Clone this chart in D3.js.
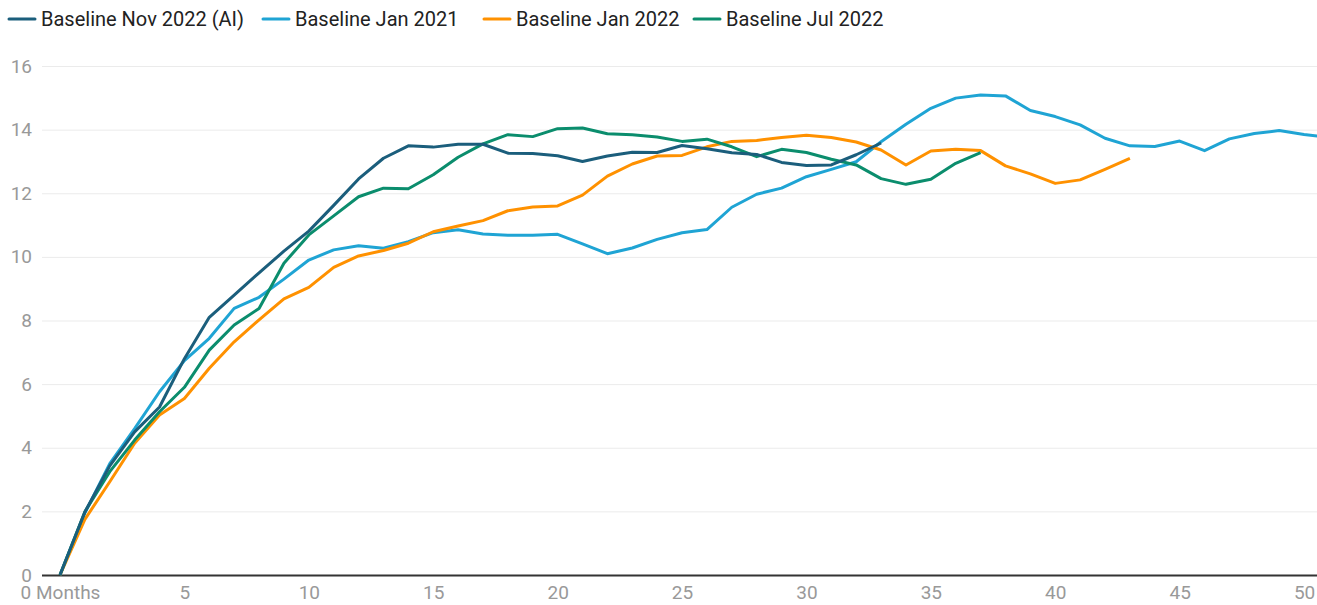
<!DOCTYPE html>
<html>
<head>
<meta charset="utf-8">
<script src="https://cdn.jsdelivr.net/npm/d3@7"></script>
<style>
  body { margin: 0; background: #fff; font-family: Roboto, sans-serif; }
  svg { display: block; }
</style>
</head>
<body>
<svg id="chart" width="1317" height="605"></svg>
<script>
// values, one per month
const novAI = [0, 1.98, 3.43, 4.5, 5.28, 6.8, 8.1, 8.8, 9.5, 10.18, 10.81, 11.62, 12.45, 13.1, 13.49, 13.45, 13.54, 13.54,
  13.26, 13.25, 13.18, 13.0, 13.17, 13.29, 13.28, 13.5, 13.4, 13.27, 13.22, 12.97, 12.87, 12.89, 13.21, 13.58];
const jan2021 = [0, 1.95, 3.5, 4.6, 5.76, 6.74, 7.44, 8.38, 8.73, 9.3, 9.9, 10.22, 10.35, 10.27, 10.48, 10.76, 10.85, 10.72,
  10.68, 10.68, 10.71, 10.41, 10.1, 10.28, 10.55, 10.76, 10.86, 11.56, 11.97, 12.16, 12.52, 12.75, 12.99, 13.62, 14.17,
  14.67, 14.99, 15.09, 15.06, 14.6, 14.41, 14.15, 13.73, 13.49, 13.47, 13.64, 13.34, 13.71, 13.88, 13.97, 13.85, 13.75];
const jan2022 = [0, 1.75, 2.93, 4.14, 5.03, 5.55, 6.5, 7.33, 8.02, 8.68, 9.04, 9.67, 10.03, 10.2, 10.43, 10.79, 10.97, 11.14,
  11.45, 11.57, 11.6, 11.94, 12.54, 12.92, 13.17, 13.19, 13.46, 13.63, 13.66, 13.75, 13.82, 13.75, 13.61, 13.36, 12.89,
  13.33, 13.38, 13.34, 12.86, 12.61, 12.31, 12.42, 12.75, 13.1];
const jul2022 = [0, 1.99, 3.25, 4.24, 5.13, 5.9, 7.07, 7.86, 8.38, 9.8, 10.69, 11.29, 11.89, 12.16, 12.14, 12.58, 13.13, 13.55,
  13.84, 13.78, 14.03, 14.05, 13.87, 13.84, 13.77, 13.63, 13.7, 13.46, 13.15, 13.38, 13.28, 13.07, 12.89, 12.46, 12.28,
  12.44, 12.94, 13.28];

const seriesNames = ["Baseline Nov 2022 (AI)", "Baseline Jan 2021", "Baseline Jan 2022", "Baseline Jul 2022"];
const seriesValues = [novAI, jan2021, jan2022, jul2022];
const colors = ["#1b5e7c", "#1fa4d4", "#ff9100", "#0b8d6d"];
const yTicks = [0, 2, 4, 6, 8, 10, 12, 14, 16];
const xTicks = [0, 5, 10, 15, 20, 25, 30, 35, 40, 45, 50];

const svg = d3.select("#chart");

const x = d3.scaleLinear().domain([0, 50.5]).range([60, 1316.5]);
const y = d3.scaleLinear().domain([0, 16]).range([575, 66]);

svg.append("defs").append("clipPath").attr("id", "clip")
  .append("rect").attr("x", 40).attr("y", 40).attr("width", 1277).attr("height", 560);

// gridlines + y labels
const yAxis = svg.append("g")
  .attr("transform", "translate(42,0)")
  .call(d3.axisLeft(y).tickValues(yTicks).tickSize(-1275).tickPadding(10).tickFormat(d3.format("d")));
yAxis.select(".domain").remove();
yAxis.selectAll(".tick line").attr("stroke", d => d === 0 ? "#333" : "#ebebeb").attr("stroke-width", d => d === 0 ? 2 : 1);
yAxis.selectAll(".tick text").attr("fill", "#999").attr("font-size", 19).attr("font-family", "Roboto, sans-serif");

// x labels
const xAxis = svg.append("g")
  .attr("transform", "translate(0,575)")
  .call(d3.axisBottom(x).tickValues(xTicks).tickSize(0).tickPadding(11)
    .tickFormat(d => d === 0 ? "0 Months" : d));
xAxis.select(".domain").remove();
xAxis.selectAll(".tick text").attr("fill", "#999").attr("font-size", 19).attr("font-family", "Roboto, sans-serif");

const line = d3.line().x((d, i) => x(i)).y(d => y(d));

const lines = svg.append("g").attr("clip-path", "url(#clip)");
// draw back to front so Nov 2022 sits on top
[1, 2, 3, 0].forEach(k => {
  lines.append("path")
    .datum(seriesValues[k])
    .attr("fill", "none")
    .attr("stroke", colors[k])
    .attr("stroke-width", 3)
    .attr("stroke-linejoin", "round")
    .attr("d", line);
});

// legend
const legendX = [9, 263, 484, 694];
const legend = svg.append("g");
seriesNames.forEach((name, i) => {
  const g = legend.append("g").attr("transform", `translate(${legendX[i]},19)`);
  g.append("line").attr("x1", 0).attr("x2", 26).attr("y1", 0).attr("y2", 0)
    .attr("stroke", colors[i]).attr("stroke-width", 3).attr("stroke-linecap", "round");
  g.append("text").attr("x", 32).attr("y", 7)
    .attr("font-size", 20).attr("fill", "#222").attr("font-family", "Roboto, sans-serif")
    .text(name);
});
</script>
</body>
</html>
